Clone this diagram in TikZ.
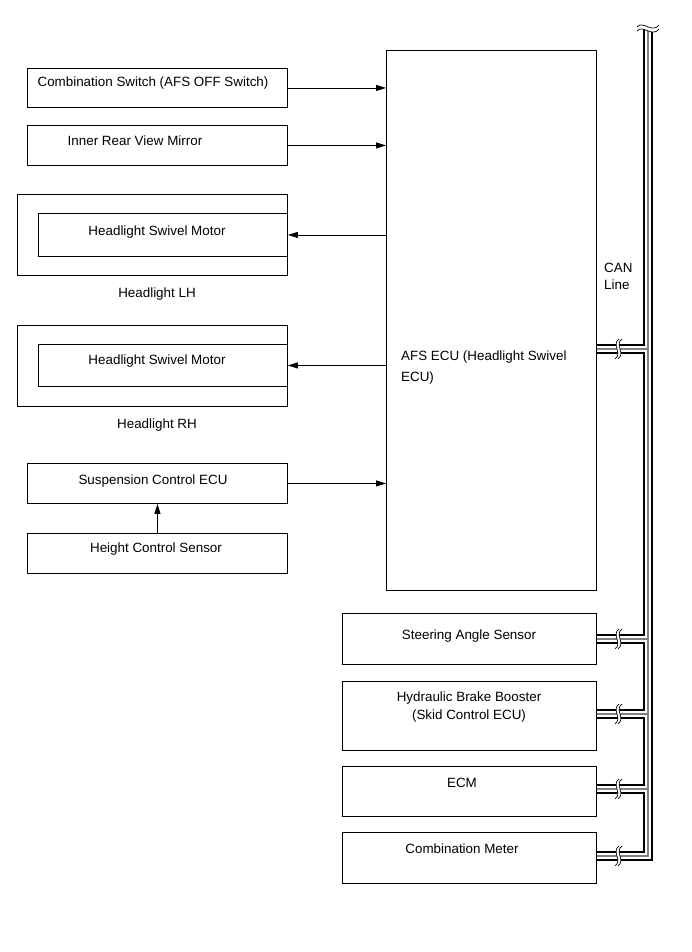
\documentclass[tikz,border=0pt]{standalone}
\usepackage{fontspec}
\setmainfont{Liberation Sans}
\usetikzlibrary{arrows.meta,positioning,calc}

\begin{document}
\begin{tikzpicture}[x=1pt, y=-1pt,
      box/.style={draw, line width=0.9pt, inner sep=0pt, anchor=north west},
      lbl/.style={font=\fontsize{13.4}{21}\selectfont, inner sep=0pt, anchor=base},
      arr/.style={-{Triangle[length=10pt,width=6pt]}, line width=0.8pt},
      canb/.style={line width=2.6pt, line join=miter},
      cang/.style={line width=1.1pt, black!50},
      brk/.pic={
        \fill[white] (2,-10) .. controls (-6,-4) and (6,4) .. (-2,10)
          -- (1,10) .. controls (9,4) and (-3,-4) .. (5,-10) -- cycle;
        \draw[line width=0.7pt] (2,-10) .. controls (-6,-4) and (6,4) .. (-2,10);
        \draw[line width=0.7pt] (5,-10) .. controls (-3,-4) and (9,4) .. (1,10);
      }
    ]
      \useasboundingbox (0,0) rectangle (691,952);

      % inputs / outputs on the left
      \node[box, minimum width=260pt, minimum height=39pt] (cs) at (27,68) {};
      \node[box, minimum width=260pt, minimum height=40pt] (irm) at (27,125) {};
      \node[box, minimum width=270pt, minimum height=81pt] (hlh) at (17,194) {};
      \node[box, minimum width=249pt, minimum height=43pt] (hsl) at (38,213) {};
      \node[box, minimum width=270pt, minimum height=81pt] (hrh) at (17,325) {};
      \node[box, minimum width=249pt, minimum height=42pt] (hsr) at (38,344) {};
      \node[box, minimum width=260pt, minimum height=40pt] (scu) at (27,463) {};
      \node[box, minimum width=260pt, minimum height=40pt] (hcs) at (27,533) {};

      % ECU and CAN members
      \node[box, minimum width=210pt, minimum height=540pt] (afs) at (386,50) {};
      \node[box, minimum width=254pt, minimum height=51pt] (sas) at (342,613) {};
      \node[box, minimum width=254pt, minimum height=69pt] (hbb) at (342,681) {};
      \node[box, minimum width=254pt, minimum height=50pt] (ecm) at (342,766) {};
      \node[box, minimum width=254pt, minimum height=51pt] (cmt) at (342,832) {};

      % texts
      \node[lbl] (cs-t) at (153,87) {Combination Switch (AFS OFF Switch)};
      \node[lbl] (irm-t) at (135,146) {Inner Rear View Mirror};
      \node[lbl] (hsl-t) at (157,235) {Headlight Swivel Motor};
      \node[lbl] (hlh-t) at (157,297) {Headlight LH};
      \node[lbl] (hsr-t) at (157,364) {Headlight Swivel Motor};
      \node[lbl] (hrh-t) at (157,428) {Headlight RH};
      \node[lbl] (scu-t) at (153,484) {Suspension Control ECU};
      \node[lbl] (hcs-t) at (156,552) {Height Control Sensor};
      \node[lbl, anchor=north west, align=left] (afs-t) at (401,351)
        {AFS ECU (Headlight Swivel\\ECU)};
      \node[lbl] (sas-t) at (469,639) {Steering Angle Sensor};
      \node[lbl, anchor=north, align=center, font=\fontsize{13.4}{18}\selectfont] (hbb-t) at (469,692)
        {Hydraulic Brake Booster\\(Skid Control ECU)};
      \node[lbl] (ecm-t) at (462,787) {ECM};
      \node[lbl] (cmt-t) at (462,853) {Combination Meter};
      \node[lbl, anchor=north west, align=left, font=\fontsize{13.4}{17}\selectfont] (can-t) at (604,263)
        {CAN\\Line};

      % signal arrows
      \draw[arr] (cs.east) -- (cs.east -| afs.west);
      \draw[arr] (irm.east) -- (irm.east -| afs.west);
      \draw[arr] (hsl.east -| afs.west) -- (hsl.east);
      \draw[arr] (hsr.east -| afs.west) -- (hsr.east);
      \draw[arr] (scu.east) -- (scu.east -| afs.west);
      \draw[arr] (hcs.north) -- (scu.south);

      % CAN bus
      \draw[canb] (644,29) |- (afs.east |- 0,345);
      \foreach \a/\ca/\b/\cb in {afs/349/sas/639, sas/639/hbb/714, hbb/714/ecm/789, ecm/789/cmt/856}
        \draw[canb] (\a.east |- 0,\ca+4) -| (644,\cb-4) -- (\b.east |- 0,\cb-4);
      \draw[canb] (652,29) |- (cmt.east |- 0,860);
      \draw[cang] (648,29) |- (cmt.east |- 0,856);
      \foreach \b/\c in {afs/349, sas/639, hbb/714, ecm/789}
        \draw[cang] (\b.east |- 0,\c) -- (648,\c);
      \foreach \c in {349,639,714,789,856}
        \pic at (617,\c) {brk};

      % broken end on top
      \fill[white] (637,27) .. controls (643,20) and (652,34) .. (659,25)
        -- (659,29) .. controls (652,38) and (643,24) .. (637,31) -- cycle;
      \draw[line width=0.7pt] (637,27) .. controls (643,20) and (652,34) .. (659,25);
      \draw[line width=0.7pt] (637,31) .. controls (643,24) and (652,38) .. (659,29);
    \end{tikzpicture}
\end{document}
